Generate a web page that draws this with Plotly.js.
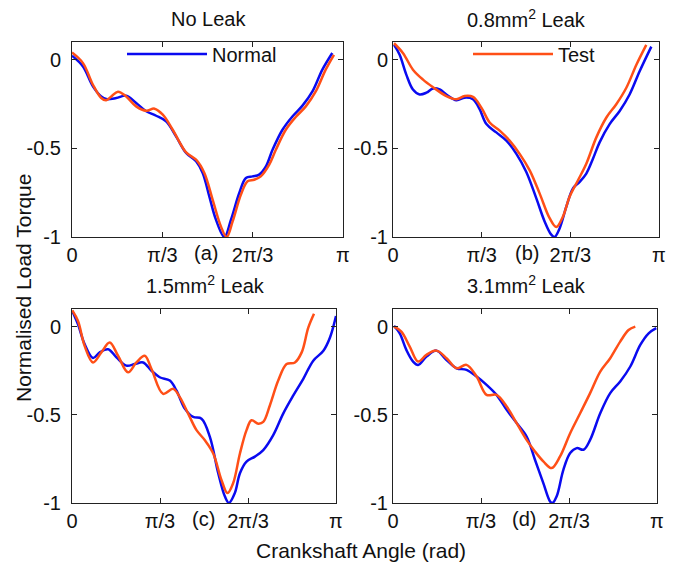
<!DOCTYPE html>
<html>
<head>
<meta charset="utf-8">
<script src="https://cdn.plot.ly/plotly-3.0.1.min.js"></script>
<style>html,body{margin:0;padding:0;background:#fff}#chart{width:678px;height:564px}</style>
</head>
<body>
<div id="chart"></div>
<script>
// Crank angle in degrees (0..180 = 0..pi), normalised load torque
const panelTitles = ["No Leak", "0.8mm<sup>2</sup> Leak", "1.5mm<sup>2</sup> Leak", "3.1mm<sup>2</sup> Leak"];
const panelTags = ["(a)", "(b)", "(c)", "(d)"];
const xTickVals = [0, 60, 120, 180];
const xTickText = ["0", "π/3", "2π/3", "π"];
const yTickVals = [0, -0.5, -1];
const yTickText = ["0", "-0.5", "-1"];

const aNormalX = [0,7.3,13.9,19.4,22.7,29.4,36.0,42.6,49.3,55.9,62.5,69.1,75.8,82.4,86.8,91.2,95.6,101.2,105.6,111.1,115.5,119.9,124.3,128.8,133.2,139.8,146.4,153.1,159.7,166.3,172.9];
const aNormalY = [0.023,-0.038,-0.150,-0.207,-0.222,-0.216,-0.203,-0.244,-0.291,-0.316,-0.348,-0.432,-0.526,-0.573,-0.639,-0.771,-0.902,-1.0,-0.902,-0.752,-0.667,-0.658,-0.648,-0.602,-0.508,-0.395,-0.320,-0.259,-0.179,-0.056,0.038];
const aTestX = [0,7.3,13.9,19.4,22.7,26.1,30.5,36.0,42.6,49.3,54.8,60.3,66.9,75.8,82.4,87.9,93.4,98.9,102.7,106.7,112.2,116.6,121.0,125.4,131.0,135.4,142.0,148.6,155.3,161.9,168.5,174.0];
const aTestY = [0.041,-0.019,-0.141,-0.216,-0.229,-0.207,-0.180,-0.207,-0.263,-0.288,-0.276,-0.310,-0.395,-0.523,-0.564,-0.639,-0.789,-0.940,-1.0,-0.912,-0.761,-0.686,-0.677,-0.658,-0.592,-0.508,-0.395,-0.323,-0.263,-0.179,-0.056,0.028];

const bNormalX = [0.7,4.5,9.0,13.5,18.0,22.6,27.1,31.6,36.1,42.9,48.5,54.1,58.6,63.2,69.9,76.7,83.5,90.2,97.0,102.6,107.1,109.4,112.8,117.3,121.8,126.3,130.8,135.3,139.8,146.6,153.4,160.1,166.9,174.8];
const bNormalY = [0.084,0.028,-0.084,-0.168,-0.196,-0.186,-0.162,-0.168,-0.196,-0.229,-0.214,-0.223,-0.279,-0.363,-0.410,-0.456,-0.531,-0.633,-0.782,-0.912,-0.987,-1.0,-0.950,-0.829,-0.726,-0.689,-0.642,-0.559,-0.466,-0.363,-0.289,-0.196,-0.065,0.074];
const bTestX = [0.7,6.8,13.5,20.3,27.1,36.1,42.9,48.5,54.1,59.8,65.4,72.2,78.9,85.7,92.5,99.2,106.0,110.5,115.0,119.5,125.2,130.8,137.6,144.4,151.1,157.9,164.7,171.4];
const bTestY = [0.093,0.037,-0.056,-0.112,-0.155,-0.205,-0.223,-0.205,-0.210,-0.270,-0.354,-0.400,-0.456,-0.531,-0.624,-0.754,-0.894,-0.944,-0.885,-0.773,-0.680,-0.587,-0.438,-0.326,-0.251,-0.158,-0.028,0.084];

const cNormalX = [0.2,4.1,8.6,14.3,18.9,24.6,30.3,37.1,42.8,48.5,54.2,59.8,66.7,71.2,76.9,82.6,88.3,94.0,99.7,104.2,107.0,111.0,114.5,119.0,124.7,130.4,137.2,144.0,150.9,157.7,164.5,171.4,175.9,180.0];
const cNormalY = [0.088,0.013,-0.099,-0.178,-0.146,-0.128,-0.174,-0.221,-0.212,-0.203,-0.250,-0.287,-0.306,-0.362,-0.465,-0.512,-0.522,-0.625,-0.831,-0.962,-1.0,-0.944,-0.831,-0.765,-0.737,-0.700,-0.615,-0.493,-0.390,-0.296,-0.193,-0.137,-0.062,0.060];
const cTestX = [0.2,4.1,8.6,14.3,20.0,25.7,31.4,38.2,43.9,49.6,54.2,62.1,69.0,73.5,79.2,84.9,90.6,96.3,101.9,106.0,109.9,114.5,119.0,122.4,127.0,130.4,134.9,140.6,146.3,152.0,156.6,161.1,165.0];
const cTestY = [0.092,0.032,-0.109,-0.203,-0.146,-0.090,-0.165,-0.259,-0.203,-0.165,-0.240,-0.381,-0.353,-0.400,-0.493,-0.587,-0.644,-0.719,-0.869,-0.944,-0.887,-0.719,-0.587,-0.531,-0.550,-0.540,-0.447,-0.306,-0.212,-0.203,-0.146,-0.006,0.073];

const dNormalX = [0.7,4.6,9.1,13.7,17.1,22.8,29.6,36.5,43.3,50.1,57.0,63.8,70.6,77.5,84.3,91.1,96.8,102.5,107.1,108.7,111.6,116.2,120.8,125.3,129.9,134.4,141.3,148.1,154.9,161.8,168.6,174.3,179.5];
const dNormalY = [0.004,-0.038,-0.132,-0.198,-0.217,-0.170,-0.136,-0.189,-0.236,-0.245,-0.283,-0.330,-0.387,-0.472,-0.547,-0.623,-0.755,-0.887,-0.991,-1.0,-0.962,-0.811,-0.717,-0.689,-0.698,-0.642,-0.491,-0.377,-0.311,-0.226,-0.104,-0.038,-0.009];
const dTestX = [0.7,5.7,11.4,17.1,22.8,29.6,36.5,43.3,50.1,57.0,63.8,70.6,77.5,84.3,91.1,96.8,102.5,108.2,113.9,120.8,127.6,134.4,141.3,148.1,154.9,160.6,165.2];
const dTestY = [0.0,-0.028,-0.113,-0.198,-0.160,-0.136,-0.179,-0.236,-0.217,-0.283,-0.387,-0.387,-0.453,-0.547,-0.642,-0.708,-0.764,-0.802,-0.736,-0.604,-0.491,-0.377,-0.255,-0.179,-0.085,-0.019,0.0];

const seriesNames = ["Normal", "Test"];
const BLUE = "#0a0af0", ORANGE = "#ff4f17";
const FONT = "Liberation Sans, Arial, Helvetica, sans-serif";

const panels = [
  {nx: aNormalX, ny: aNormalY, tx: aTestX, ty: aTestY},
  {nx: bNormalX, ny: bNormalY, tx: bTestX, ty: bTestY},
  {nx: cNormalX, ny: cNormalY, tx: cTestX, ty: cTestY},
  {nx: dNormalX, ny: dNormalY, tx: dTestX, ty: dTestY}
];

const W = 678, H = 564;
const px = v => v / W, py = v => 1 - v / H;
const xDomains = [[72, 343], [393, 659], [72, 336], [393, 657]];
const yDomains = [[42, 237], [42, 237], [309, 503], [309, 503]];
const titlePos = [[208, 19], [526, 19], [205, 284], [526, 284]];
const tagPos = [[206, 253], [527, 253], [203, 519], [524, 519]];
const yStandoff = [6, 0, 6, 0];

const data = [];
const layout = {
  width: W, height: H,
  margin: {l: 0, r: 0, t: 0, b: 0},
  paper_bgcolor: "#fff", plot_bgcolor: "#fff",
  font: {family: FONT, size: 20, color: "#111"},
  showlegend: true,
  annotations: [],
  legend: {x: px(122), y: py(54), xanchor: "left", yanchor: "middle", bgcolor: "rgba(0,0,0,0)", borderwidth: 0, font: {size: 20}, itemwidth: 80},
  legend2: {x: px(468), y: py(54), xanchor: "left", yanchor: "middle", bgcolor: "rgba(0,0,0,0)", borderwidth: 0, font: {size: 20}, itemwidth: 80}
};

panels.forEach((p, i) => {
  const k = i === 0 ? "" : String(i + 1);
  data.push({x: p.nx, y: p.ny, xaxis: "x" + k, yaxis: "y" + k, type: "scatter", mode: "lines",
    line: {color: BLUE, width: 2.5, shape: "spline", smoothing: 1}, name: seriesNames[0],
    showlegend: i === 0, legend: "legend"});
  data.push({x: p.tx, y: p.ty, xaxis: "x" + k, yaxis: "y" + k, type: "scatter", mode: "lines",
    line: {color: ORANGE, width: 2.5, shape: "spline", smoothing: 1}, name: seriesNames[1],
    showlegend: i === 1, legend: "legend2"});
  const axCommon = {showline: true, linecolor: "#222", linewidth: 1, mirror: "ticks", ticks: "inside",
    ticklen: 5, tickcolor: "#222", showgrid: false, zeroline: false, tickfont: {size: 20, family: FONT}};
  layout["xaxis" + k] = Object.assign({}, axCommon, {
    domain: [px(xDomains[i][0]), px(xDomains[i][1])], anchor: "y" + k,
    range: [0, 180], tickmode: "array", tickvals: xTickVals, ticktext: xTickText});
  layout["yaxis" + k] = Object.assign({}, axCommon, {
    domain: [py(yDomains[i][1]), py(yDomains[i][0])], anchor: "x" + k,
    range: [-1, 0.1], tickmode: "array", tickvals: yTickVals, ticktext: yTickText,
    ticklabelstandoff: yStandoff[i]});
  layout.annotations.push({text: panelTitles[i], xref: "paper", yref: "paper",
    x: px(titlePos[i][0]), y: py(titlePos[i][1]), xanchor: "center", yanchor: "middle",
    showarrow: false, font: {size: 20}});
  layout.annotations.push({text: panelTags[i], xref: "paper", yref: "paper",
    x: px(tagPos[i][0]), y: py(tagPos[i][1]), xanchor: "center", yanchor: "middle",
    showarrow: false, font: {size: 20}});
});

layout.annotations.push({text: "Crankshaft Angle (rad)", xref: "paper", yref: "paper",
  x: px(361), y: py(550), xanchor: "center", yanchor: "middle", showarrow: false, font: {size: 21}});
layout.annotations.push({text: "Normalised Load Torque", xref: "paper", yref: "paper",
  x: px(23), y: py(288), xanchor: "center", yanchor: "middle", textangle: -90, showarrow: false, font: {size: 21}});

Plotly.newPlot("chart", data, layout, {staticPlot: true, displayModeBar: false});
</script>
</body>
</html>
